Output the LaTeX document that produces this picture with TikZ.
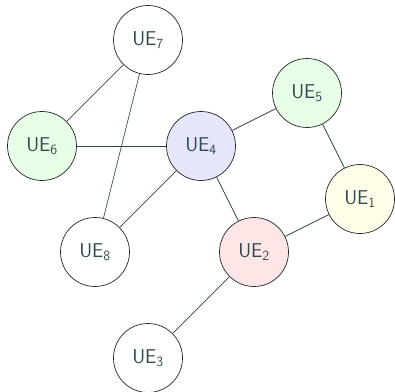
\documentclass[tikz,border=0pt]{standalone}
\usepackage{fontspec}
\begin{document}
\begin{tikzpicture}[x=1pt,y=-1pt,
  ue/.style={circle,draw=black!85,line width=0.7pt,minimum size=69pt,inner sep=0pt,
    text=textc,font=\sffamily\fontsize{20}{22}\selectfont},
  link/.style={draw=linec,line width=0.7pt}]
\definecolor{textc}{HTML}{2F4A4F}
\definecolor{linec}{HTML}{2F4545}
\definecolor{blue4}{HTML}{E6E6FA}
\definecolor{green56}{HTML}{E6FFE6}
\definecolor{yellow1}{HTML}{FFFDE8}
\definecolor{red2}{HTML}{FFE6E6}
\useasboundingbox (0,0) rectangle (395,391);
\node[ue] (ue7) at (148,40) {UE\textsubscript{7}};
\node[ue,fill=green56] (ue6) at (42,146) {UE\textsubscript{6}};
\node[ue,fill=blue4] (ue4) at (201,146) {UE\textsubscript{4}};
\node[ue,fill=green56] (ue5) at (307,93) {UE\textsubscript{5}};
\node[ue,fill=yellow1] (ue1) at (360,199) {UE\textsubscript{1}};
\node[ue] (ue8) at (95,252) {UE\textsubscript{8}};
\node[ue,fill=red2] (ue2) at (254,252) {UE\textsubscript{2}};
\node[ue] (ue3) at (148,358) {UE\textsubscript{3}};
\draw[link] (ue7) -- (ue6);
\draw[link] (ue7) -- (ue8);
\draw[link] (ue6) -- (ue4);
\draw[link] (ue4) -- (ue5);
\draw[link] (ue4) -- (ue8);
\draw[link] (ue4) -- (ue2);
\draw[link] (ue5) -- (ue1);
\draw[link] (ue1) -- (ue2);
\draw[link] (ue2) -- (ue3);
\end{tikzpicture}
\end{document}
